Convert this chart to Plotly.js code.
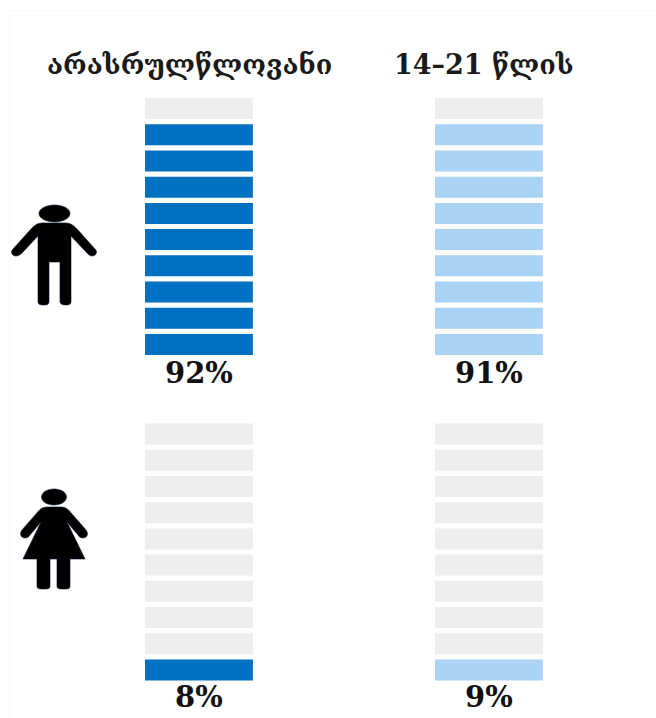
<!DOCTYPE html>
<html><head><meta charset="utf-8">
<script src="https://cdn.plot.ly/plotly-3.0.1.min.js"></script>
<style>html,body{margin:0;padding:0;background:#fff}</style></head>
<body><div id="chart" style="width:656px;height:718px"></div>
<script>
const groups = ["არასრულწლოვანი", "14–21 წლის"];
const genders = ["male", "female"];
const maleShares = [92, 91];
const femaleShares = [8, 9];
const groupColors = ["#0070c0", "#aad2f5"];
const emptyColor = "#eeeeee";
const cellCount = 10;
const W = 656, H = 718;

function cells(shares, yaxis) {
  const traces = [];
  shares.forEach((share, g) => {
    const filled = Math.round(share / 10);
    const ys = [], cols = [];
    for (let i = 0; i < cellCount; i++) {
      ys.push(i);
      cols.push(i < filled ? groupColors[g] : emptyColor);
    }
    traces.push({
      type: "bar", x: ys.map(() => groups[g]), y: ys.map(() => 0.8), base: ys.map(v => v + 0.1),
      width: 0.372, marker: {color: cols, line: {width: 0}}, xaxis: yaxis === "y" ? "x" : "x2", yaxis: yaxis,
      hoverinfo: "skip", showlegend: false
    });
  });
  return traces;
}
const data = cells(maleShares, "y").concat(cells(femaleShares, "y2"));

const px = p => p.replace(/(-?[\d.]+),(-?[\d.]+)/g, (m, x, y) => (x / W).toFixed(5) + "," + (1 - y / H).toFixed(5));
const icon = d => ({type: "path", xref: "paper", yref: "paper", path: px(d), fillcolor: "#000", line: {width: 0.6, color: "#03122e"}, layer: "above"});
const ellipse = (cx, cy, rx, ry) => {
  const k = 0.5523;
  return `M ${cx - rx},${cy} C ${cx - rx},${cy - ry * k} ${cx - rx * k},${cy - ry} ${cx},${cy - ry} C ${cx + rx * k},${cy - ry} ${cx + rx},${cy - ry * k} ${cx + rx},${cy} C ${cx + rx},${cy + ry * k} ${cx + rx * k},${cy + ry} ${cx},${cy + ry} C ${cx - rx * k},${cy + ry} ${cx - rx},${cy + ry * k} ${cx - rx},${cy} Z`;
};
const manBody = "M 42,223 L 66,223 C 71,223 74,226 77,229 L 95,249 C 98,252 96,256 92,256 C 90,256 89,255 87,253 L 71,236 L 71,301 C 71,304 70,305 66,305 C 62,305 60,304 60,301 L 60,262 L 49,262 L 49,301 C 49,304 48,305 44,305 C 39,305 38,304 38,301 L 38,236 L 22,253 C 20,255 18,256 16,256 C 12,256 10,252 13,249 L 31,229 C 34,226 37,223 42,223 Z";
const womanBody = "M 47,507 L 61,507 C 66,507 69,510 72,514 L 86,530 C 89,534 87,538 83,538 C 81,538 79,537 78,535 L 67,522 L 85,559 L 70,559 L 70,586 C 70,589 68,589 64,589 C 59,589 57,589 57,586 L 57,559 L 50,559 L 50,586 C 50,589 48,589 44,589 C 39,589 37,589 37,586 L 37,559 L 23,559 L 41,522 L 30,535 C 29,537 27,538 25,538 C 21,538 19,534 22,530 L 36,514 C 39,510 42,507 47,507 Z";

const frame = {type: "path", xref: "paper", yref: "paper", path: px("M 9.5,718 L 9.5,10.5 L 656,10.5"), line: {color: "#f8f8f8", width: 1}};

const font = "'DejaVu Serif',serif";
const annotations = [];
groups.forEach((g, i) => {
  annotations.push({xref: "paper", yref: "paper", x: [189.5, 484][i] / W, y: 1 - 65 / H, text: "<b>" + g + "</b>", showarrow: false, xanchor: "center", yanchor: "middle", font: {family: font, size: 27, color: "#1a1a1a"}});
  annotations.push({xref: "x", yref: "paper", x: g, y: 1 - 373 / H, text: "<b>" + maleShares[i] + "%</b>", showarrow: false, xanchor: "center", yanchor: "middle", font: {family: font, size: 29, color: "#111"}});
  annotations.push({xref: "x2", yref: "paper", x: g, y: 1 - 697 / H, text: "<b>" + femaleShares[i] + "%</b>", showarrow: false, xanchor: "center", yanchor: "middle", font: {family: font, size: 29, color: "#111"}});
});

const xa = {type: "category", categoryorder: "array", categoryarray: groups, range: [-0.686, 1.576], domain: [0, 1], visible: false, fixedrange: true};
const ya = d => ({range: [0, cellCount], domain: d, visible: false, fixedrange: true});
const layout = {
  width: W, height: H, margin: {l: 0, r: 0, t: 0, b: 0, pad: 0},
  paper_bgcolor: "#fff", plot_bgcolor: "#fff", barmode: "overlay", showlegend: false,
  xaxis: {...xa, anchor: "y"}, xaxis2: {...xa, anchor: "y2"},
  yaxis: {...ya([1 - 357.5 / H, 1 - 95.5 / H]), anchor: "x"},
  yaxis2: {...ya([1 - 683 / H, 1 - 421 / H]), anchor: "x2"},
  annotations,
  shapes: [frame, icon(ellipse(54.5, 213.5, 15.5, 8.5)), icon(manBody), icon(ellipse(54, 497, 12.5, 8)), icon(womanBody)]
};
Plotly.newPlot("chart", data, layout, {displayModeBar: false, responsive: false});
</script></body></html>
